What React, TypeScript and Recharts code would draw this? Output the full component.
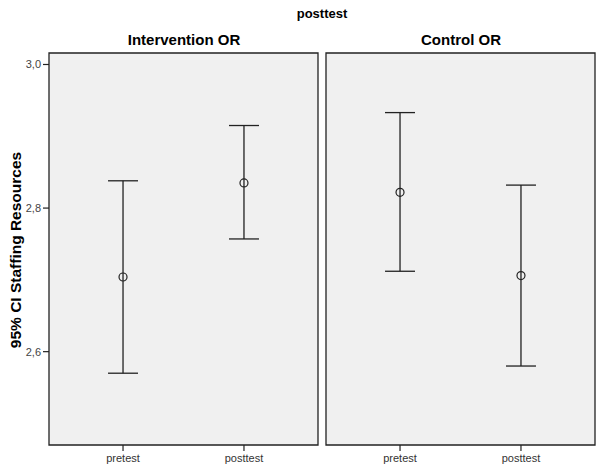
import React from "react";
import {
  ScatterChart,
  Scatter,
  XAxis,
  YAxis,
  ErrorBar,
  ReferenceArea,
} from "recharts";

const CATEGORIES = ["pretest", "posttest"];
const PANELS = ["Intervention OR", "Control OR"];

// mean and 95% CI bounds per panel, in CATEGORIES order
const interventionMean = [2.704, 2.835];
const interventionLower = [2.570, 2.757];
const interventionUpper = [2.838, 2.915];

const controlMean = [2.822, 2.706];
const controlLower = [2.712, 2.580];
const controlUpper = [2.933, 2.832];

const Y_TICKS = [2.6, 2.8, 3.0];
const Y_DOMAIN: [number, number] = [2.47, 3.016];
const X_DOMAIN: [number, number] = [-0.612, 1.612];

const FONT = "'Liberation Sans', Arial, sans-serif";
const INK = "#222";

function buildRows(mean: number[], lower: number[], upper: number[]) {
  return CATEGORIES.map((_, i) => ({
    x: i,
    mean: mean[i],
    err: [mean[i] - lower[i], upper[i] - mean[i]],
  }));
}

const MeanMarker = (props: any) => (
  <circle cx={props.cx} cy={props.cy} r={4} fill="none" stroke={INK} strokeWidth={1.2} />
);

function Panel({
  rows,
  showYAxis,
  width,
  left,
}: {
  rows: ReturnType<typeof buildRows>;
  showYAxis: boolean;
  width: number;
  left: number;
}) {
  return (
    <div style={{ position: "absolute", left, top: 0 }}>
      <ScatterChart
        width={width}
        height={465}
        margin={{ top: 53, right: showYAxis ? 4 : 5, bottom: 0, left: showYAxis ? 0 : 4 }}
      >
        <XAxis
          type="number"
          dataKey="x"
          domain={X_DOMAIN}
          ticks={[0, 1]}
          tickFormatter={(v: number) => CATEGORIES[v] ?? ""}
          height={20}
          axisLine={false}
          tickSize={6}
          tickMargin={3}
          tick={{ fontSize: 11, fill: "#333", fontFamily: FONT }}
          tickLine={{ stroke: INK, strokeWidth: 1.2 }}
          allowDataOverflow
        />
        <YAxis
          type="number"
          dataKey="mean"
          domain={Y_DOMAIN}
          ticks={Y_TICKS}
          hide={!showYAxis}
          width={49}
          axisLine={false}
          tickSize={6}
          tickMargin={2}
          tickFormatter={(v: number) => v.toFixed(1).replace(".", ",")}
          tick={{ fontSize: 11, fill: "#444", fontFamily: FONT }}
          tickLine={{ stroke: INK, strokeWidth: 1.2 }}
          allowDataOverflow
        />
        <ReferenceArea
          x1={X_DOMAIN[0]}
          x2={X_DOMAIN[1]}
          y1={Y_DOMAIN[0]}
          y2={Y_DOMAIN[1]}
          fill="#f0f0f0"
          fillOpacity={1}
          stroke={INK}
          strokeWidth={1.3}
        />
        <Scatter data={rows} shape={MeanMarker} isAnimationActive={false}>
          <ErrorBar dataKey="err" direction="y" width={15} stroke={INK} strokeWidth={1.3} />
        </Scatter>
      </ScatterChart>
    </div>
  );
}

export default function App() {
  const interventionRows = buildRows(interventionMean, interventionLower, interventionUpper);
  const controlRows = buildRows(controlMean, controlLower, controlUpper);

  return (
    <div
      style={{
        position: "fixed",
        left: 0,
        top: 0,
        width: 600,
        height: 465,
        background: "#fff",
        fontFamily: FONT,
      }}
    >
      <Panel rows={interventionRows} showYAxis width={322} left={0} />
      <Panel rows={controlRows} showYAxis={false} width={278} left={322} />

      <div
        style={{
          position: "absolute",
          top: 6,
          left: 0,
          width: 600,
          textAlign: "center",
          fontWeight: "bold",
          fontSize: 13,
          paddingLeft: 44,
          boxSizing: "border-box",
        }}
      >
        posttest
      </div>
      <div
        style={{
          position: "absolute",
          top: 31,
          left: 49,
          width: 270,
          textAlign: "center",
          fontWeight: "bold",
          fontSize: 15,
        }}
      >
        {PANELS[0]}
      </div>
      <div
        style={{
          position: "absolute",
          top: 31,
          left: 326,
          width: 270,
          textAlign: "center",
          fontWeight: "bold",
          fontSize: 15,
        }}
      >
        {PANELS[1]}
      </div>
      <div
        style={{
          position: "absolute",
          left: 16,
          top: 250,
          transform: "translate(-50%, -50%) rotate(-90deg)",
          whiteSpace: "nowrap",
          fontWeight: "bold",
          fontSize: 15.5,
        }}
      >
        95% CI Staffing Resources
      </div>
    </div>
  );
}
